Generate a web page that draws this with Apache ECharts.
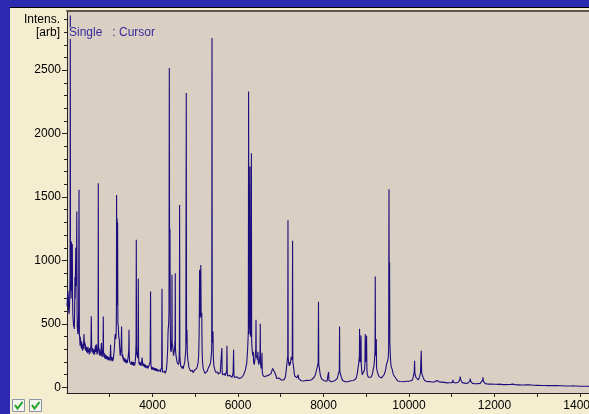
<!DOCTYPE html>
<html>
<head>
<meta charset="utf-8">
<script src="https://cdn.jsdelivr.net/npm/echarts@6/dist/echarts.min.js"></script>
<style>
html,body{margin:0;padding:0;background:#f5edd0;overflow:hidden;}
#c{width:589px;height:414px;}
</style>
</head>
<body>
<div id="c"></div>
<script>
// Spectrum: [m/z (Da), intensity (arb)], split by mass range
const spec2k = [[2000,640],[2010,700],[2020,760],[2030,720],[2040,600],[2050,580],[2060,650],[2068,820],[2072,900],[2077,2930],[2082,880],[2090,860],[2096,700],[2101,1150],[2106,760],[2112,900],[2118,1000],[2124,1130],[2130,700],[2138,560],[2147,520],[2155,480],[2163,500],[2171,460],[2178,600],[2186,870],[2192,700],[2198,900],[2206,1100],[2214,800],[2222,900],[2229,1386],[2236,600],[2241,480],[2250,440],[2258,420],[2264,460],[2272,600],[2281,1557],[2290,420],[2299,380],[2305,330],[2312,400],[2318,330],[2325,370],[2333,310],[2342,360],[2350,300],[2358,340],[2365,290],[2372,330],[2380,300],[2390,360],[2398,420],[2405,330],[2415,360],[2422,300],[2430,340],[2440,290],[2452,320],[2460,280],[2470,310],[2478,270],[2490,320],[2498,280],[2508,300],[2520,260],[2530,310],[2540,270],[2550,300],[2560,330],[2568,560],[2576,330],[2585,280],[2595,310],[2605,270],[2615,300],[2625,260],[2635,300],[2645,260],[2655,290],[2665,330],[2675,280],[2685,340],[2695,280],[2705,260],[2715,290],[2722,280],[2727,350],[2732,1609],[2737,340],[2745,290],[2755,260],[2762,300],[2770,250],[2780,280],[2790,250],[2798,310],[2805,350],[2815,270],[2825,240],[2835,280],[2843,300],[2849,559],[2855,280],[2863,240],[2872,270],[2882,230],[2892,260],[2900,225],[2910,255],[2920,225],[2930,250],[2940,220],[2950,245],[2960,215],[2970,240]];
const spec3k = [[2980,215],[2990,235],[3000,210],[3010,250],[3015,280],[3020,336],[3026,250],[3035,215],[3045,240],[3055,205],[3065,235],[3075,210],[3085,230],[3095,260],[3106,300],[3115,350],[3122,400],[3130,420],[3140,380],[3150,420],[3156,600],[3160,1517],[3165,700],[3172,1330],[3178,650],[3184,1300],[3190,500],[3200,480],[3210,400],[3223,380],[3235,300],[3245,250],[3255,280],[3265,300],[3272,400],[3277,480],[3283,300],[3292,240],[3302,260],[3312,220],[3322,240],[3332,205],[3342,230],[3352,200],[3362,225],[3372,195],[3382,220],[3392,190],[3402,215],[3412,195],[3422,220],[3435,250],[3445,300],[3450,454],[3456,260],[3465,200],[3475,215],[3485,185],[3495,210],[3505,180],[3515,205],[3525,180],[3535,200],[3545,175],[3555,200],[3565,170],[3575,195],[3585,175],[3595,200],[3604,240],[3610,280],[3616,350],[3621,1163],[3627,320],[3635,260],[3644,250],[3655,230],[3662,300],[3668,856],[3674,260],[3682,200],[3692,180],[3702,200],[3712,175],[3722,195],[3732,170],[3742,190],[3752,200],[3758,235],[3765,200],[3775,170],[3785,190],[3795,165],[3805,185],[3815,160],[3825,180],[3835,155],[3845,175],[3855,160],[3865,175],[3875,150],[3885,170],[3895,150],[3905,165],[3915,145],[3925,165],[3935,150],[3945,200],[3955,756],[3962,190],[3972,160],[3982,140],[3992,160]];
const spec4k = [[4005,140],[4015,158],[4025,138],[4035,155],[4045,135],[4055,152],[4065,132],[4075,150],[4085,130],[4095,148],[4105,128],[4115,145],[4125,128],[4135,142],[4145,125],[4155,140],[4165,122],[4175,138],[4185,120],[4195,138],[4205,125],[4215,160],[4222,777],[4229,150],[4238,120],[4248,135],[4258,115],[4268,130],[4278,112],[4288,128],[4298,110],[4310,125],[4325,140],[4340,200],[4355,300],[4365,450],[4378,500],[4386,600],[4393,2517],[4400,900],[4409,1250],[4416,500],[4423,300],[4435,280],[4445,320],[4452,400],[4456,887],[4461,350],[4470,330],[4480,300],[4492,250],[4505,260],[4515,300],[4528,380],[4533,900],[4538,300],[4550,250],[4560,230],[4575,200],[4590,190],[4605,180],[4620,200],[4629,300],[4634,1437],[4640,250],[4650,200],[4660,170],[4670,185],[4680,160],[4690,175],[4700,150],[4710,168],[4720,148],[4730,165],[4740,150],[4755,200],[4770,260],[4780,300],[4790,2320],[4797,350],[4807,454],[4814,280],[4825,220],[4840,190],[4850,160],[4860,170],[4870,145],[4880,150],[4890,130],[4900,140],[4910,120],[4920,135],[4930,118],[4940,132],[4950,115],[4960,130],[4970,118],[4980,135]];
const spec5k = [[4990,125],[5005,140],[5020,125],[5035,150],[5050,170],[5065,190],[5080,250],[5090,400],[5096,600],[5102,927],[5108,600],[5115,550],[5122,600],[5130,965],[5138,580],[5146,560],[5152,588],[5160,300],[5170,200],[5182,160],[5192,140],[5202,150],[5212,125],[5222,135],[5232,110],[5242,125],[5252,108],[5262,122],[5272,110],[5285,130],[5300,150],[5315,140],[5330,160],[5345,180],[5360,200],[5375,250],[5385,300],[5392,2753],[5398,350],[5408,420],[5415,441],[5422,250],[5435,170],[5450,150],[5465,140],[5475,120],[5485,130],[5495,112],[5505,125],[5515,108],[5525,122],[5535,105],[5545,120],[5555,102],[5565,118],[5575,100],[5585,115],[5600,120],[5615,130],[5622,310],[5630,120],[5640,100],[5650,112],[5660,96],[5670,110],[5680,95],[5690,108],[5700,92],[5710,105],[5720,95],[5735,130],[5742,328],[5749,110],[5760,90],[5770,100],[5780,86],[5790,98],[5800,84],[5810,95],[5820,82],[5830,92],[5840,80],[5850,92],[5860,80],[5870,90],[5885,110],[5897,297],[5905,95],[5915,78],[5925,90],[5935,75],[5945,86],[5955,72],[5965,84],[5975,70],[5985,80]];
const spec6k = [[5995,72],[6010,80],[6025,70],[6040,80],[6055,72],[6070,82],[6085,78],[6100,88],[6115,85],[6130,98],[6145,105],[6160,110],[6175,140],[6190,170],[6205,190],[6215,250],[6225,300],[6235,380],[6242,450],[6248,2331],[6255,420],[6264,500],[6270,900],[6280,1740],[6288,430],[6296,400],[6306,440],[6313,1846],[6320,350],[6330,300],[6345,250],[6358,280],[6366,200],[6380,180],[6395,220],[6408,260],[6416,300],[6421,533],[6427,250],[6440,240],[6455,220],[6466,280],[6475,200],[6490,180],[6505,220],[6515,260],[6521,501],[6527,200],[6540,150],[6555,180],[6561,273],[6568,120],[6580,100],[6590,88],[6600,96],[6610,84],[6620,95],[6630,82],[6640,92],[6650,80],[6660,90],[6670,80],[6685,92],[6700,85],[6715,95],[6730,88],[6745,100],[6760,100],[6775,110],[6790,120],[6810,150],[6832,165],[6850,140],[6870,110],[6890,90],[6905,70],[6915,78],[6925,66],[6935,76],[6945,64],[6955,74],[6965,62],[6975,72],[6985,62]];
const spec7k = [[7000,70],[7015,58],[7030,68],[7045,56],[7060,66],[7075,58],[7090,70],[7105,80],[7120,110],[7135,160],[7148,200],[7158,230],[7164,250],[7169,1318],[7174,240],[7182,200],[7190,210],[7200,170],[7212,200],[7222,180],[7235,210],[7245,240],[7260,220],[7270,260],[7277,1155],[7283,200],[7293,180],[7305,150],[7315,110],[7328,90],[7340,85],[7355,100],[7365,80],[7380,75],[7395,85],[7410,100],[7420,70],[7435,62],[7450,58],[7465,64],[7480,52],[7495,62],[7510,52],[7525,60],[7540,50],[7555,60],[7570,52],[7585,48],[7600,56],[7615,48],[7630,55],[7645,46],[7660,55],[7675,48],[7690,54],[7705,48],[7720,60],[7735,55],[7750,65],[7765,70],[7780,80],[7795,90],[7810,100],[7825,120],[7840,140],[7855,160],[7868,180],[7876,200],[7883,675],[7890,180],[7901,160],[7915,120],[7930,90],[7948,80],[7962,65],[7975,60],[7990,55]];
const spec8k = [[8005,55],[8020,52],[8035,55],[8050,50],[8065,52],[8080,48],[8095,55],[8110,60],[8119,122],[8128,55],[8140,50],[8155,48],[8170,50],[8185,45],[8200,48],[8215,45],[8230,50],[8245,48],[8260,52],[8275,55],[8290,60],[8305,65],[8320,70],[8335,85],[8345,100],[8360,110],[8370,130],[8376,480],[8382,130],[8392,110],[8404,100],[8418,80],[8432,65],[8447,55],[8462,50],[8477,48],[8492,52],[8507,45],[8522,48],[8537,45],[8552,50],[8567,45],[8582,48],[8597,45],[8612,50],[8627,48],[8642,52],[8657,48],[8672,55],[8687,50],[8702,55],[8717,52],[8732,60],[8747,62],[8762,70],[8777,85],[8792,110],[8805,150],[8815,170],[8825,190],[8835,200],[8840,250],[8844,462],[8850,220],[8860,200],[8866,210],[8877,410],[8884,180],[8895,130],[8907,100],[8920,90],[8935,100],[8950,110],[8962,140],[8970,200],[8977,420],[8984,200],[8995,200],[9002,300],[9008,407],[9015,150],[9025,100],[9036,90],[9050,80],[9065,75],[9080,70],[9094,74]];
const spec9k = [[9110,80],[9125,90],[9140,100],[9152,120],[9162,140],[9172,150],[9182,170],[9190,200],[9200,250],[9206,300],[9211,874],[9216,300],[9224,250],[9235,381],[9242,150],[9255,130],[9270,110],[9285,100],[9300,85],[9315,80],[9328,74],[9342,78],[9357,75],[9372,80],[9387,85],[9402,90],[9417,100],[9432,115],[9447,130],[9460,150],[9472,180],[9482,190],[9492,200],[9502,210],[9515,230],[9524,300],[9532,1562],[9538,700],[9546,984],[9552,350],[9562,271],[9572,200],[9585,160],[9597,150],[9609,140],[9622,120],[9635,100],[9650,95],[9665,90],[9679,87],[9695,70],[9710,60],[9725,55],[9740,50],[9755,52],[9770,48],[9785,50],[9800,47],[9815,50],[9830,45],[9845,48],[9860,45],[9875,50],[9890,47],[9905,52],[9920,50],[9935,48],[9950,52],[9965,48],[9980,50],[9995,48]];
const spec10k = [[10010,50],[10025,48],[10040,52],[10055,50],[10070,55],[10085,60],[10095,75],[10102,87],[10110,100],[10122,120],[10131,210],[10138,110],[10150,95],[10162,80],[10175,70],[10190,65],[10205,65],[10220,60],[10235,70],[10250,85],[10260,100],[10268,110],[10276,120],[10287,289],[10296,120],[10308,100],[10322,90],[10335,75],[10350,60],[10365,55],[10380,50],[10400,47],[10420,47],[10440,45],[10460,44],[10480,46],[10500,44],[10520,45],[10544,43],[10565,45],[10585,42],[10605,44],[10625,45],[10640,50],[10654,55],[10668,52],[10685,46],[10705,44],[10725,42],[10745,40],[10765,42],[10785,40],[10805,38],[10825,40],[10845,38],[10865,40],[10888,36],[10910,38],[10930,36],[10950,37],[10970,35],[10990,36],[11010,38]];
const spec11k = [[11020,45],[11029,60],[11038,40],[11055,35],[11075,33],[11095,35],[11115,33],[11135,36],[11155,40],[11175,50],[11190,62],[11199,85],[11210,60],[11225,45],[11245,38],[11265,35],[11285,33],[11305,34],[11325,32],[11345,33],[11365,32],[11385,35],[11405,40],[11425,50],[11433,70],[11445,48],[11465,36],[11485,32],[11505,30],[11525,31],[11545,29],[11565,31],[11585,29],[11605,30],[11625,29],[11645,31],[11665,32],[11685,36],[11705,45],[11722,55],[11730,79],[11740,50],[11760,35],[11784,30],[11810,28],[11835,27],[11860,29],[11885,26],[11910,28],[11935,26],[11960,27],[11985,25]];
const spec12k = [[12010,27],[12035,25],[12060,26],[12085,24],[12110,28],[12135,26],[12160,24],[12185,22],[12210,25],[12235,23],[12260,24],[12285,22],[12310,25],[12335,23],[12360,22],[12385,24],[12410,22],[12435,26],[12460,23],[12485,21],[12510,22],[12535,20],[12560,22],[12585,20],[12610,21],[12635,19],[12660,21],[12685,19],[12710,23],[12735,20],[12760,18],[12785,20],[12810,18],[12835,21],[12860,18],[12885,17],[12910,19],[12935,17],[12960,18],[12985,16]];
const spec13k = [[13010,18],[13035,16],[13060,17],[13085,15],[13110,17],[13135,15],[13160,16],[13185,15],[13210,16],[13235,14],[13260,15],[13285,14],[13310,16],[13335,14],[13360,13],[13385,15],[13410,13],[13435,14],[13460,13],[13485,14],[13510,12],[13535,13],[13560,12],[13585,13],[13610,12],[13635,11],[13660,13],[13685,11],[13710,12],[13735,11],[13760,12],[13785,11],[13810,10],[13835,12],[13860,10],[13885,11],[13910,10],[13935,11],[13960,10],[13985,9],[14010,10],[14035,9],[14060,10],[14085,9],[14110,10],[14135,9],[14160,8],[14185,9],[14211,8]];
const yLabelValues = [0,500,1000,1500,2000,2500];
const yMinorValues = [0,100,200,300,400,500,600,700,800,900,1000,1100,1200,1300,1400,1500,1600,1700,1800,1900,2000,2100,2200,2300,2400,2500,2600,2700,2800,2900];
const xLabelValues = [4000,6000,8000,10000,12000,14000];
const xTickValues = [3000,4000,5000,6000,7000,8000,9000,10000,11000,12000,13000,14000];

const data = [].concat(spec2k,spec3k,spec4k,spec5k,spec6k,spec7k,spec8k,spec9k,spec10k,spec11k,spec12k,spec13k);
const chart = echarts.init(document.getElementById('c'),null,{renderer:'canvas'});
const FONT = 'Liberation Sans, Arial, sans-serif';
const lbl = {fontFamily:FONT,fontSize:12,color:'#000',formatter:v=>String(v)};
const Y_MIN=-44, Y_MAX=2966, X_MIN=2000, X_MAX=14211;
chart.setOption({
  animation:false,
  backgroundColor:'#f5edd0',
  grid:{left:67,top:11,width:522,height:382,show:true,backgroundColor:'#d9d0c3',borderWidth:0,outerBoundsMode:'none',containLabel:false},
  xAxis:[{
    type:'value',min:X_MIN,max:X_MAX,
    axisLine:{show:true,onZero:false,lineStyle:{color:'#222',width:1}},
    axisTick:{show:true,length:4,customValues:xTickValues,lineStyle:{color:'#222'}},
    axisLabel:Object.assign({customValues:xLabelValues,margin:7},lbl),
    splitLine:{show:false}
  },{
    type:'value',position:'top',min:X_MIN,max:X_MAX,
    axisLine:{show:true,onZero:false,lineStyle:{color:'#5a564c',width:2}},
    axisTick:{show:false},axisLabel:{show:false},splitLine:{show:false}
  }],
  yAxis:[{
    type:'value',min:Y_MIN,max:Y_MAX,
    axisLine:{show:true,onZero:false,lineStyle:{color:'#222',width:1}},
    axisTick:{show:true,length:5,customValues:yLabelValues,lineStyle:{color:'#222'}},
    axisLabel:Object.assign({customValues:yLabelValues,margin:6},lbl),
    splitLine:{show:false}
  },{
    type:'value',min:Y_MIN,max:Y_MAX,position:'left',
    axisLine:{show:false,onZero:false},
    axisTick:{show:true,length:3,customValues:yMinorValues,lineStyle:{color:'#222'}},
    axisLabel:{show:false},splitLine:{show:false}
  }],
  series:[{
    type:'line',data:data,showSymbol:false,
    lineStyle:{color:'#1c0c7c',width:1.1},
    itemStyle:{color:'#1c0c7c'}
  }],
  graphic:[
    {type:'rect',shape:{x:0,y:0,width:589,height:7},style:{fill:'#2b2ab0'},silent:true},
    {type:'rect',shape:{x:0,y:7,width:589,height:1},style:{fill:'#000'},silent:true},
    {type:'rect',shape:{x:0,y:0,width:10,height:414},style:{fill:'#2b2ab0'},silent:true},
    {type:'text',right:529,top:14,style:{text:'Intens.',font:'12px '+FONT,fill:'#000',align:'right'}},
    {type:'text',right:529,top:27,style:{text:'[arb]',font:'12px '+FONT,fill:'#000',align:'right'}},
    {type:'text',left:69,top:27,z:100,style:{text:'Single   : Cursor',font:'12px '+FONT,fill:'#3a2a9c',backgroundColor:'#d9d0c3'}},
    {type:'rect',shape:{x:12.5,y:399.5,width:12,height:12},style:{fill:'#f4f4ee',stroke:'#8a96a6',lineWidth:1},silent:true},
    {type:'polyline',shape:{points:[[15,405],[17.5,408.5],[22.5,402]]},style:{stroke:'#20a020',lineWidth:2,fill:null},silent:true},
    {type:'rect',shape:{x:29.5,y:399.5,width:12,height:12},style:{fill:'#f4f4ee',stroke:'#8a96a6',lineWidth:1},silent:true},
    {type:'polyline',shape:{points:[[32,405],[34.5,408.5],[39.5,402]]},style:{stroke:'#20a020',lineWidth:2,fill:null},silent:true}
  ]
});
</script>
</body>
</html>
